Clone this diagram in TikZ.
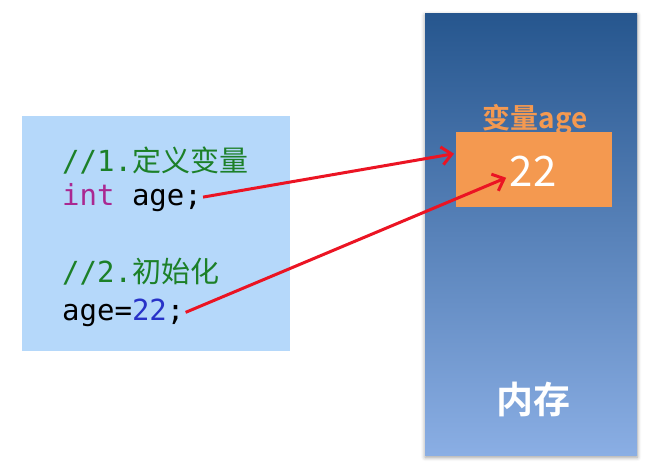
\documentclass[tikz,border=0pt]{standalone}
\usepackage{fontspec}
\setmonofont{DejaVu Sans Mono}
\newfontfamily\cjk[BoldFont={Noto Sans CJK SC Bold}]{Noto Sans CJK SC}
\usetikzlibrary{arrows.meta,shadows.blur}

\definecolor{codebg}{RGB}{181,216,250}
\definecolor{comment}{RGB}{28,128,40}
\definecolor{keyword}{RGB}{170,40,145}
\definecolor{number}{RGB}{40,50,200}
\definecolor{memtop}{RGB}{38,86,142}
\definecolor{membot}{RGB}{138,174,228}
\definecolor{cellfill}{RGB}{244,153,80}
\definecolor{pointer}{RGB}{235,20,35}

\begin{document}
\begin{tikzpicture}[x=1pt,y=-1pt,
  code/.style={anchor=base west,inner sep=0pt,font=\fontsize{29}{34}\selectfont\ttfamily},
  ptr/.style={draw=pointer,line width=3pt,-{Straight Barb[length=10pt,width=18pt]}}]

\useasboundingbox (0,0) rectangle (646,466);

\node (box) [fill=codebg,inner sep=0pt,minimum width=268pt,minimum height=235pt,anchor=north west] at (22,116) {};

\node (mem) [top color=memtop,bottom color=membot,inner sep=0pt,minimum width=212pt,minimum height=442pt,anchor=north west,
  blur shadow={shadow xshift=0pt,shadow yshift=-2pt,shadow blur radius=4pt,shadow opacity=40}] at (425,13) {};

\node (cell) [fill=cellfill,inner sep=0pt,minimum width=156pt,minimum height=75pt,anchor=north west] at (456,132) {};

\node (c1) [code,text=comment] at (62,171) {//1.{\cjk 定义变量}};
\node (c2) [code] at (62,205) {{\color{keyword}int} age;};
\node (c3) [code,text=comment] at (62,282) {//2.{\cjk 初始化}};
\node (c4) [code] at (62,320) {age={\color{number}22};};

\node (lbl) [anchor=base,text=cellfill,font=\cjk\bfseries\fontsize{28}{30}\selectfont] at (535,128) {变量age};
\node (num) [anchor=base,text=white,font=\cjk\fontsize{42}{46}\selectfont] at (533,186) {22};
\node (memlbl) [anchor=base,text=white,font=\cjk\bfseries\fontsize{37}{40}\selectfont] at (533,413) {内存};

\draw[ptr] ([xshift=1pt]c2.east) -- ([shift={(-2pt,16pt)}]cell.west);
\draw[ptr] ([xshift=1pt]c4.east) -- ([yshift=-7pt]num.west);

\end{tikzpicture}
\end{document}
